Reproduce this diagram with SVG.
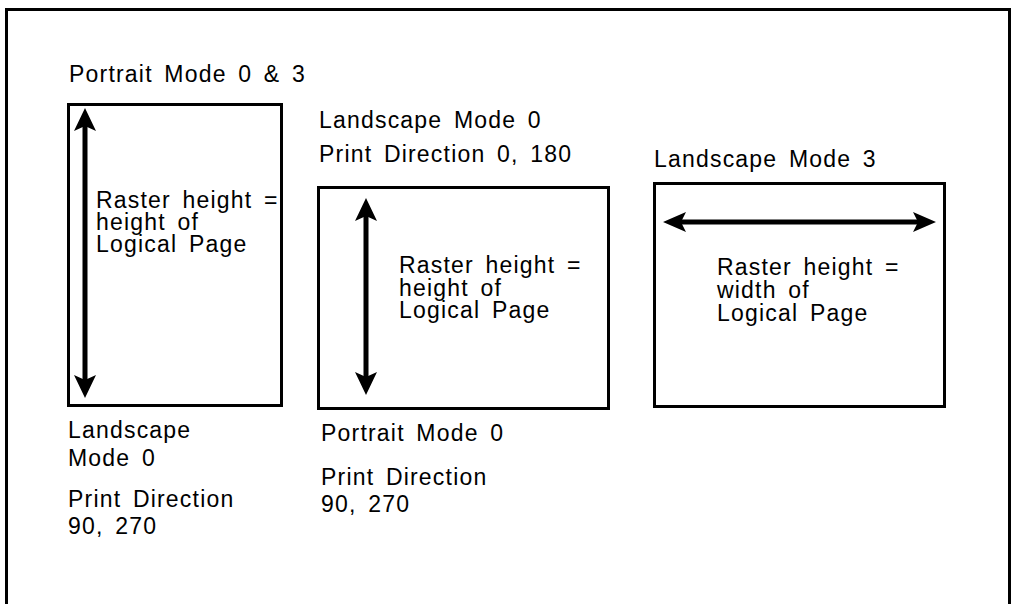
<svg xmlns="http://www.w3.org/2000/svg" width="1012" height="604" viewBox="0 0 1012 604">
<style>
  text { font-family: "Liberation Sans", Arial, sans-serif; font-size: 23px; fill: #000; letter-spacing: 1.2px; word-spacing: 4px; }
  .box { fill: #fff; stroke: #000; stroke-width: 3; }
  .shaft { stroke: #000; stroke-width: 5; fill: none; }
  .head { fill: #000; stroke: none; }
</style>
<rect x="0" y="0" width="1012" height="604" fill="#fff"/>
<path d="M6.5,604 V9.5 H1009.5 V604" fill="none" stroke="#000" stroke-width="3"/>

<g id="portrait">
  <text x="69" y="82">Portrait Mode 0 &amp; 3</text>
  <rect class="box" x="68.5" y="104.5" width="213" height="301"/>
  <text x="96" y="208">Raster height =</text>
  <text x="96" y="230">height of</text>
  <text x="96" y="252">Logical Page</text>
  <text x="68" y="438">Landscape</text>
  <text x="68" y="466">Mode 0</text>
  <text x="68" y="507">Print Direction</text>
  <text x="68" y="534">90, 270</text>
</g>

<g id="landscape0">
  <text x="319" y="128">Landscape Mode 0</text>
  <text x="319" y="162">Print Direction 0, 180</text>
  <rect class="box" x="318.5" y="187.5" width="290" height="221"/>
  <text x="399" y="273">Raster height =</text>
  <text x="399" y="296">height of</text>
  <text x="399" y="318">Logical Page</text>
  <text x="321" y="441">Portrait Mode 0</text>
  <text x="321" y="485">Print Direction</text>
  <text x="321" y="512">90, 270</text>
</g>

<g id="landscape3">
  <text x="654" y="167">Landscape Mode 3</text>
  <rect class="box" x="654.5" y="183.5" width="290" height="223"/>
  <text x="717" y="275">Raster height =</text>
  <text x="717" y="298">width of</text>
  <text x="717" y="321">Logical Page</text>
</g>

<g id="connectors">
  <line class="shaft" x1="85" y1="125" x2="85" y2="381"/>
  <path class="head" d="M85,108 L96,131 L85,126 L74,131 Z"/>
  <path class="head" d="M85,398 L96,375 L85,380 L74,375 Z"/>

  <line class="shaft" x1="366" y1="215" x2="366" y2="378"/>
  <path class="head" d="M366,198 L377,221 L366,216 L355,221 Z"/>
  <path class="head" d="M366,395 L377,372 L366,377 L355,372 Z"/>

  <line class="shaft" x1="680" y1="222" x2="919" y2="222"/>
  <path class="head" d="M663,222 L686,212 L681,222 L686,232 Z"/>
  <path class="head" d="M936,222 L913,212 L918,222 L913,232 Z"/>
</g>
</svg>
